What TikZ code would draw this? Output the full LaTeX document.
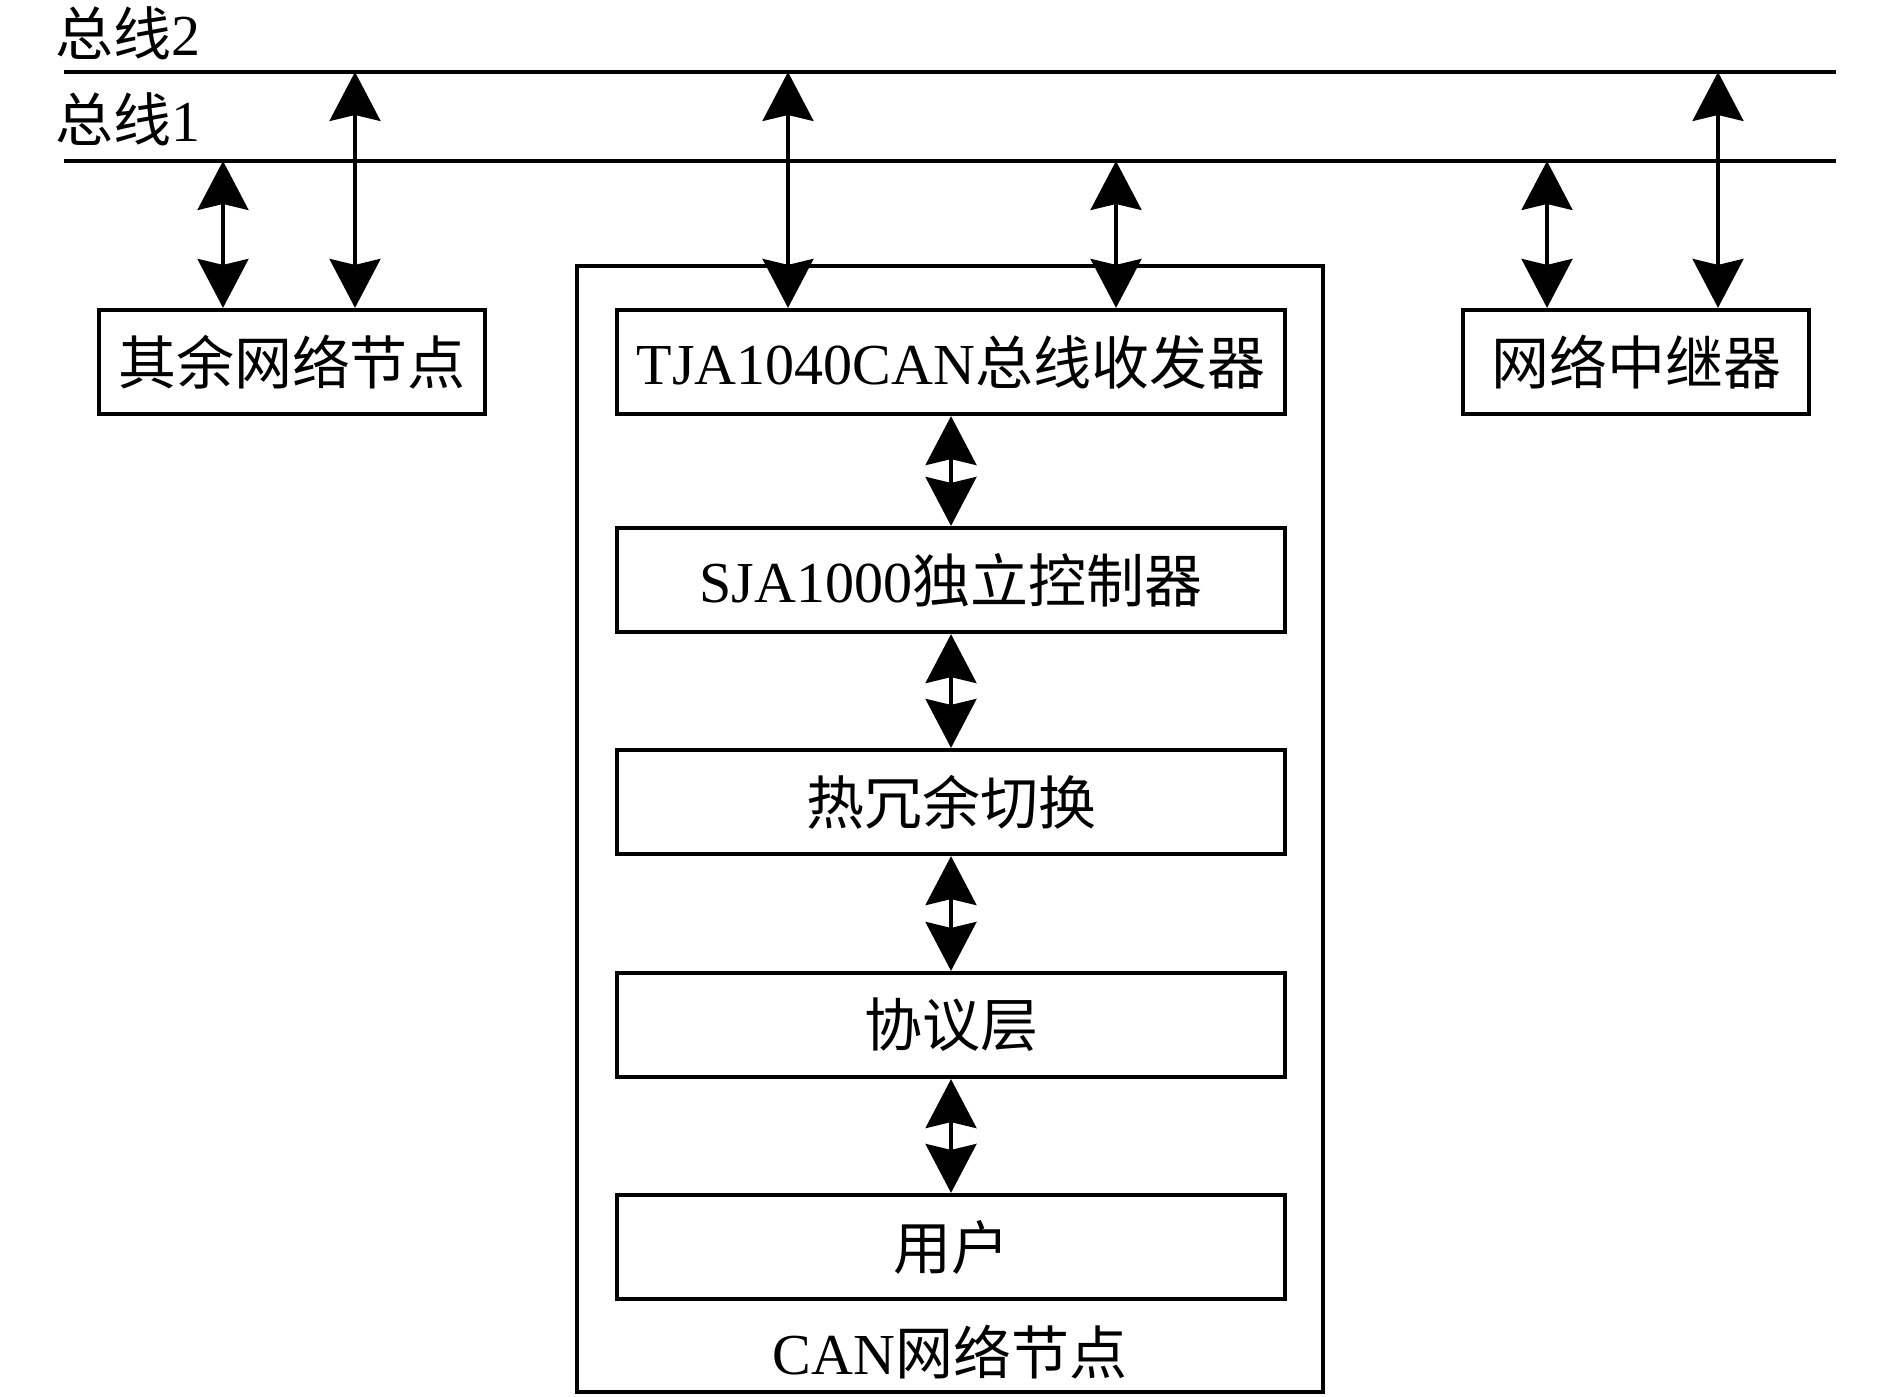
\documentclass[tikz,border=0pt]{standalone}
\usepackage{fontspec}
\setmainfont{Liberation Serif}
\newfontfamily\cjk{Noto Sans CJK SC}
\usetikzlibrary{arrows.meta}

\begin{document}
\begin{tikzpicture}[x=0.1mm,y=-0.1mm,
  font=\fontsize{16.5pt}{20pt}\selectfont,
  box/.style={draw,line width=1.2pt,minimum height=10.4mm,inner sep=0pt},
  stack/.style={box,minimum width=66.8mm},
  bus/.style={line width=1.1pt},
  biarrow/.style={line width=0.9pt,{Stealth[length=4.9mm,width=5.1mm,inset=0.6mm]}-{Stealth[length=4.9mm,width=5.1mm,inset=0.6mm]}}]

\useasboundingbox (0,0) rectangle (1890,1396);

% buses
\coordinate (b2l) at (64,72);
\coordinate (b2r) at (1836,72);
\coordinate (b1l) at (64,161);
\coordinate (b1r) at (1836,161);
\draw[bus] (b2l) -- (b2r);
\draw[bus] (b1l) -- (b1r);
\node (lab2) at (128,33) {{\cjk 总线}2};
\node (lab1) at (128,119) {{\cjk 总线}1};

% CAN node frame
\node[draw,line width=1pt,minimum width=74.6mm,minimum height=112.6mm] (canbox) at (950,829) {};
\node (canlab) at (950,1352) {CAN{\cjk 网络节点}};

\node[box,minimum width=38.6mm] (other) at (292,362) {\cjk 其余网络节点};
\node[box,minimum width=34.6mm] (relay) at (1636,362) {\cjk 网络中继器};
\node[stack] (tja) at (951,362) {TJA1040CAN{\cjk 总线收发器}};
\node[stack] (sja) at (951,580) {SJA1000{\cjk 独立控制器}};
\node[stack] (hot) at (951,802) {\cjk 热冗余切换};
\node[stack] (proto) at (951,1025) {\cjk 协议层};
\node[stack] (user) at (951,1247) {\cjk 用户};

% taps on the buses
\coordinate (t1) at (223,161);
\coordinate (t2) at (355,72);
\coordinate (t3) at (788,72);
\coordinate (t4) at (1116,161);
\coordinate (t5) at (1547,161);
\coordinate (t6) at (1718,72);
\draw[biarrow] (t1) -- (t1 |- other.north);
\draw[biarrow] (t2) -- (t2 |- other.north);
\draw[biarrow] (t3) -- (t3 |- tja.north);
\draw[biarrow] (t4) -- (t4 |- tja.north);
\draw[biarrow] (t5) -- (t5 |- relay.north);
\draw[biarrow] (t6) -- (t6 |- relay.north);

\draw[biarrow] (tja) -- (sja);
\draw[biarrow] (sja) -- (hot);
\draw[biarrow] (hot) -- (proto);
\draw[biarrow] (proto) -- (user);
\end{tikzpicture}
\end{document}
